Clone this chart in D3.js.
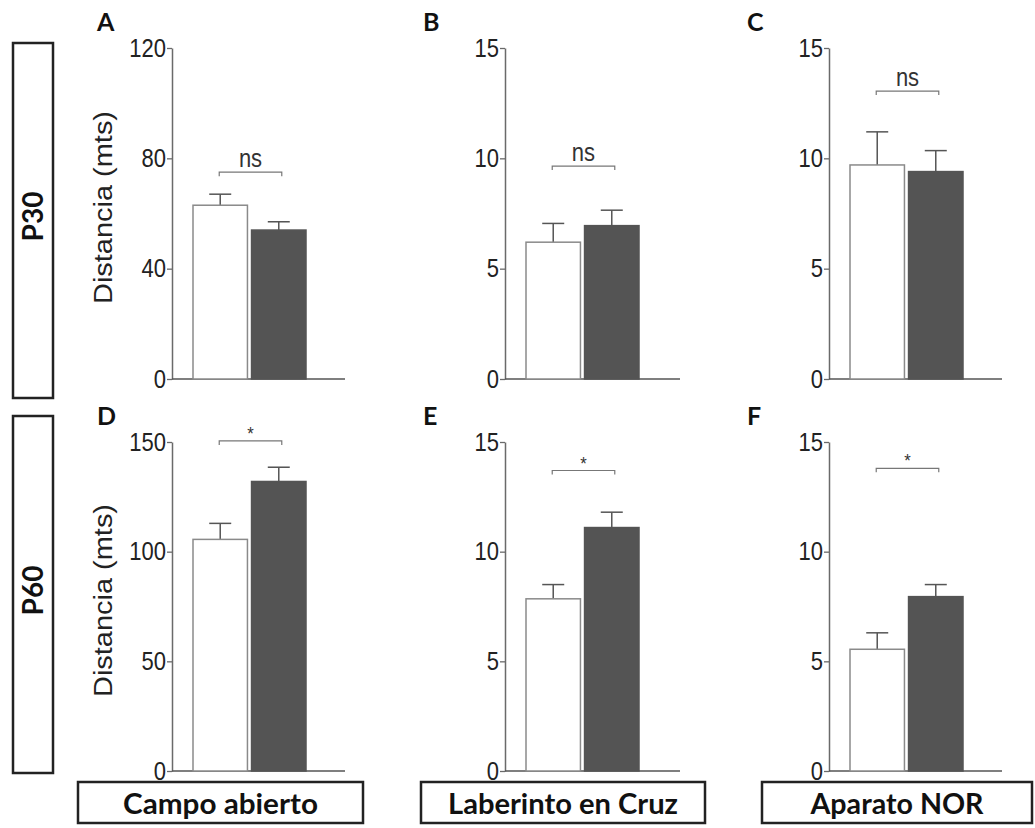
<!DOCTYPE html>
<html>
<head>
<meta charset="utf-8">
<script src="https://cdn.jsdelivr.net/npm/d3@7"></script>
<style>
  html, body { margin: 0; padding: 0; background: #fff; }
  svg { display: block; }
</style>
</head>
<body>
<svg id="chart" width="1035" height="828"></svg>
<script>
// Distance travelled (metres), control (white) vs treated (dark) groups
const panelLetters = ["A", "B", "C", "D", "E", "F"];
const ages = ["P30", "P60"];
const tests = ["Campo abierto", "Laberinto en Cruz", "Aparato NOR"];
const groups = ["control", "tratado"];

const controlMean = [63, 6.2, 9.7, 105.6, 7.85, 5.55];
const controlSem  = [4.0, 0.85, 1.5, 7.3, 0.65, 0.75];
const treatedMean = [54, 6.95, 9.4, 132, 11.1, 7.95];
const treatedSem  = [3.0, 0.7, 0.95, 6.5, 0.7, 0.55];

const yMax = [120, 15, 15, 150, 15, 15];
const yTicks = [
  [0, 40, 80, 120], [0, 5, 10, 15], [0, 5, 10, 15],
  [0, 50, 100, 150], [0, 5, 10, 15], [0, 5, 10, 15]
];
const sigLabels = ["ns", "ns", "ns", "*", "*", "*"];
const sigLevel = [75, 9.65, 13.05, 150.5, 13.7, 13.8];
const yTitle = "Distancia (mts)";

// Layout
const colAxisX = [172, 505, 829];
const colEnd = [345, 680, 1002];
const colLetterX = [97, 423, 747];
const rowBase = [379, 771];
const rowTop = [48, 442];
const NARROW = 0.88; // horizontal squeeze of the numeric labels

const svg = d3.select("#chart");
const NUM_FONT = "'Liberation Sans', Arial, sans-serif";
const BOLD_FONT = "Lato, 'Open Sans', sans-serif";

panelLetters.forEach((letter, i) => {
  const row = Math.floor(i / 3), col = i % 3;
  const ax = colAxisX[col];
  const g = svg.append("g");

  const y = d3.scaleLinear().domain([0, yMax[i]]).range([rowBase[row], rowTop[row]]);
  const x = d3.scaleBand().domain(groups).range([ax + 21, ax + 134]).paddingInner(0.07);

  // Y axis
  const yAxis = d3.axisLeft(y).tickValues(yTicks[i]).tickSize(5).tickSizeOuter(0).tickPadding(2);
  const ag = g.append("g").attr("transform", `translate(${ax},0)`).call(yAxis);
  ag.select(".domain").attr("stroke", "#6a6a6a").attr("stroke-width", 1.5);
  ag.selectAll(".tick line").attr("stroke", "#6a6a6a").attr("stroke-width", 1.3);
  ag.selectAll(".tick text")
    .attr("font-family", NUM_FONT).attr("font-size", 25).attr("fill", "#222")
    .attr("x", -6 / NARROW)
    .attr("transform", `scale(${NARROW},1)`);

  // Baseline
  g.append("line")
    .attr("x1", ax).attr("x2", colEnd[col])
    .attr("y1", y(0)).attr("y2", y(0))
    .attr("stroke", "#555").attr("stroke-width", 1.6);

  const rows = [
    { key: "control", mean: controlMean[i], sem: controlSem[i] },
    { key: "tratado", mean: treatedMean[i], sem: treatedSem[i] }
  ];

  // Error bars (upper half, drawn behind the bars)
  rows.forEach(d => {
    const cx = x(d.key) + x.bandwidth() / 2;
    g.append("line")
      .attr("x1", cx).attr("x2", cx)
      .attr("y1", y(d.mean)).attr("y2", y(d.mean + d.sem))
      .attr("stroke", "#555").attr("stroke-width", 1.5);
    g.append("line")
      .attr("x1", cx - 11).attr("x2", cx + 11)
      .attr("y1", y(d.mean + d.sem)).attr("y2", y(d.mean + d.sem))
      .attr("stroke", "#555").attr("stroke-width", 1.5);
  });

  // Bars
  g.selectAll("rect.bar").data(rows).join("rect")
    .attr("class", "bar")
    .attr("x", d => x(d.key))
    .attr("width", x.bandwidth())
    .attr("y", d => y(d.mean))
    .attr("height", d => y(0) - y(d.mean))
    .attr("fill", d => d.key === "control" ? "#fff" : "#545454")
    .attr("stroke", d => d.key === "control" ? "#8a8a8a" : "#545454")
    .attr("stroke-width", 1.5);

  // Significance bracket
  const x1 = x("control") + x.bandwidth() / 2 - 1;
  const x2 = x("tratado") + x.bandwidth() / 2 + 3;
  const by = y(sigLevel[i]);
  g.append("path")
    .attr("d", `M${x1},${by + 4}V${by}H${x2}V${by + 4}`)
    .attr("fill", "none").attr("stroke", "#777").attr("stroke-width", 1.2);
  const isStar = sigLabels[i] === "*";
  const mid = (x1 + x2) / 2;
  g.append("text")
    .attr("x", mid / NARROW)
    .attr("y", isStar ? by - 1 : by - 5)
    .attr("transform", `scale(${NARROW},1)`)
    .attr("text-anchor", "middle")
    .attr("font-family", NUM_FONT)
    .attr("font-size", isStar ? 19 : 25)
    .attr("fill", "#333")
    .text(sigLabels[i]);

  // Panel letter
  g.append("text")
    .attr("x", colLetterX[col]).attr("y", rowTop[row] - 17)
    .attr("font-family", BOLD_FONT).attr("font-weight", 700)
    .attr("font-size", 25).attr("fill", "#111")
    .text(letter);

  // Y title on the first column
  if (col === 0) {
    const cy = (rowBase[row] + rowTop[row]) / 2 - 6;
    g.append("text")
      .attr("transform", `translate(112,${cy}) rotate(-90)`)
      .attr("text-anchor", "middle")
      .attr("font-family", NUM_FONT).attr("font-size", 26)
      .attr("fill", "#222")
      .attr("textLength", 193).attr("lengthAdjust", "spacingAndGlyphs")
      .text(yTitle);
  }
});

// Row (age) boxes on the left
const ageBoxes = [[43, 398], [416, 773]];
ages.forEach((age, r) => {
  const [t, b] = ageBoxes[r];
  svg.append("rect")
    .attr("x", 13).attr("y", t).attr("width", 40).attr("height", b - t)
    .attr("fill", "#fff").attr("stroke", "#222").attr("stroke-width", 2.5);
  svg.append("text")
    .attr("transform", `translate(43,${(t + b) / 2 - 4}) rotate(-90)`)
    .attr("text-anchor", "middle")
    .attr("font-family", BOLD_FONT).attr("font-weight", 700)
    .attr("font-size", 28).attr("fill", "#111")
    .text(age);
});

// Column (test) boxes along the bottom
const testBoxX = [[78, 363], [421, 705], [762, 1032]];
const testTextWidth = [195, 230, 173];
tests.forEach((name, c) => {
  const [l, r] = testBoxX[c];
  svg.append("rect")
    .attr("x", l).attr("y", 782).attr("width", r - l).attr("height", 41)
    .attr("fill", "#fff").attr("stroke", "#222").attr("stroke-width", 2.5);
  svg.append("text")
    .attr("x", (l + r) / 2).attr("y", 814)
    .attr("text-anchor", "middle")
    .attr("font-family", BOLD_FONT).attr("font-weight", 700)
    .attr("font-size", 29).attr("fill", "#111")
    .attr("textLength", testTextWidth[c]).attr("lengthAdjust", "spacingAndGlyphs")
    .text(name);
});
</script>
</body>
</html>
